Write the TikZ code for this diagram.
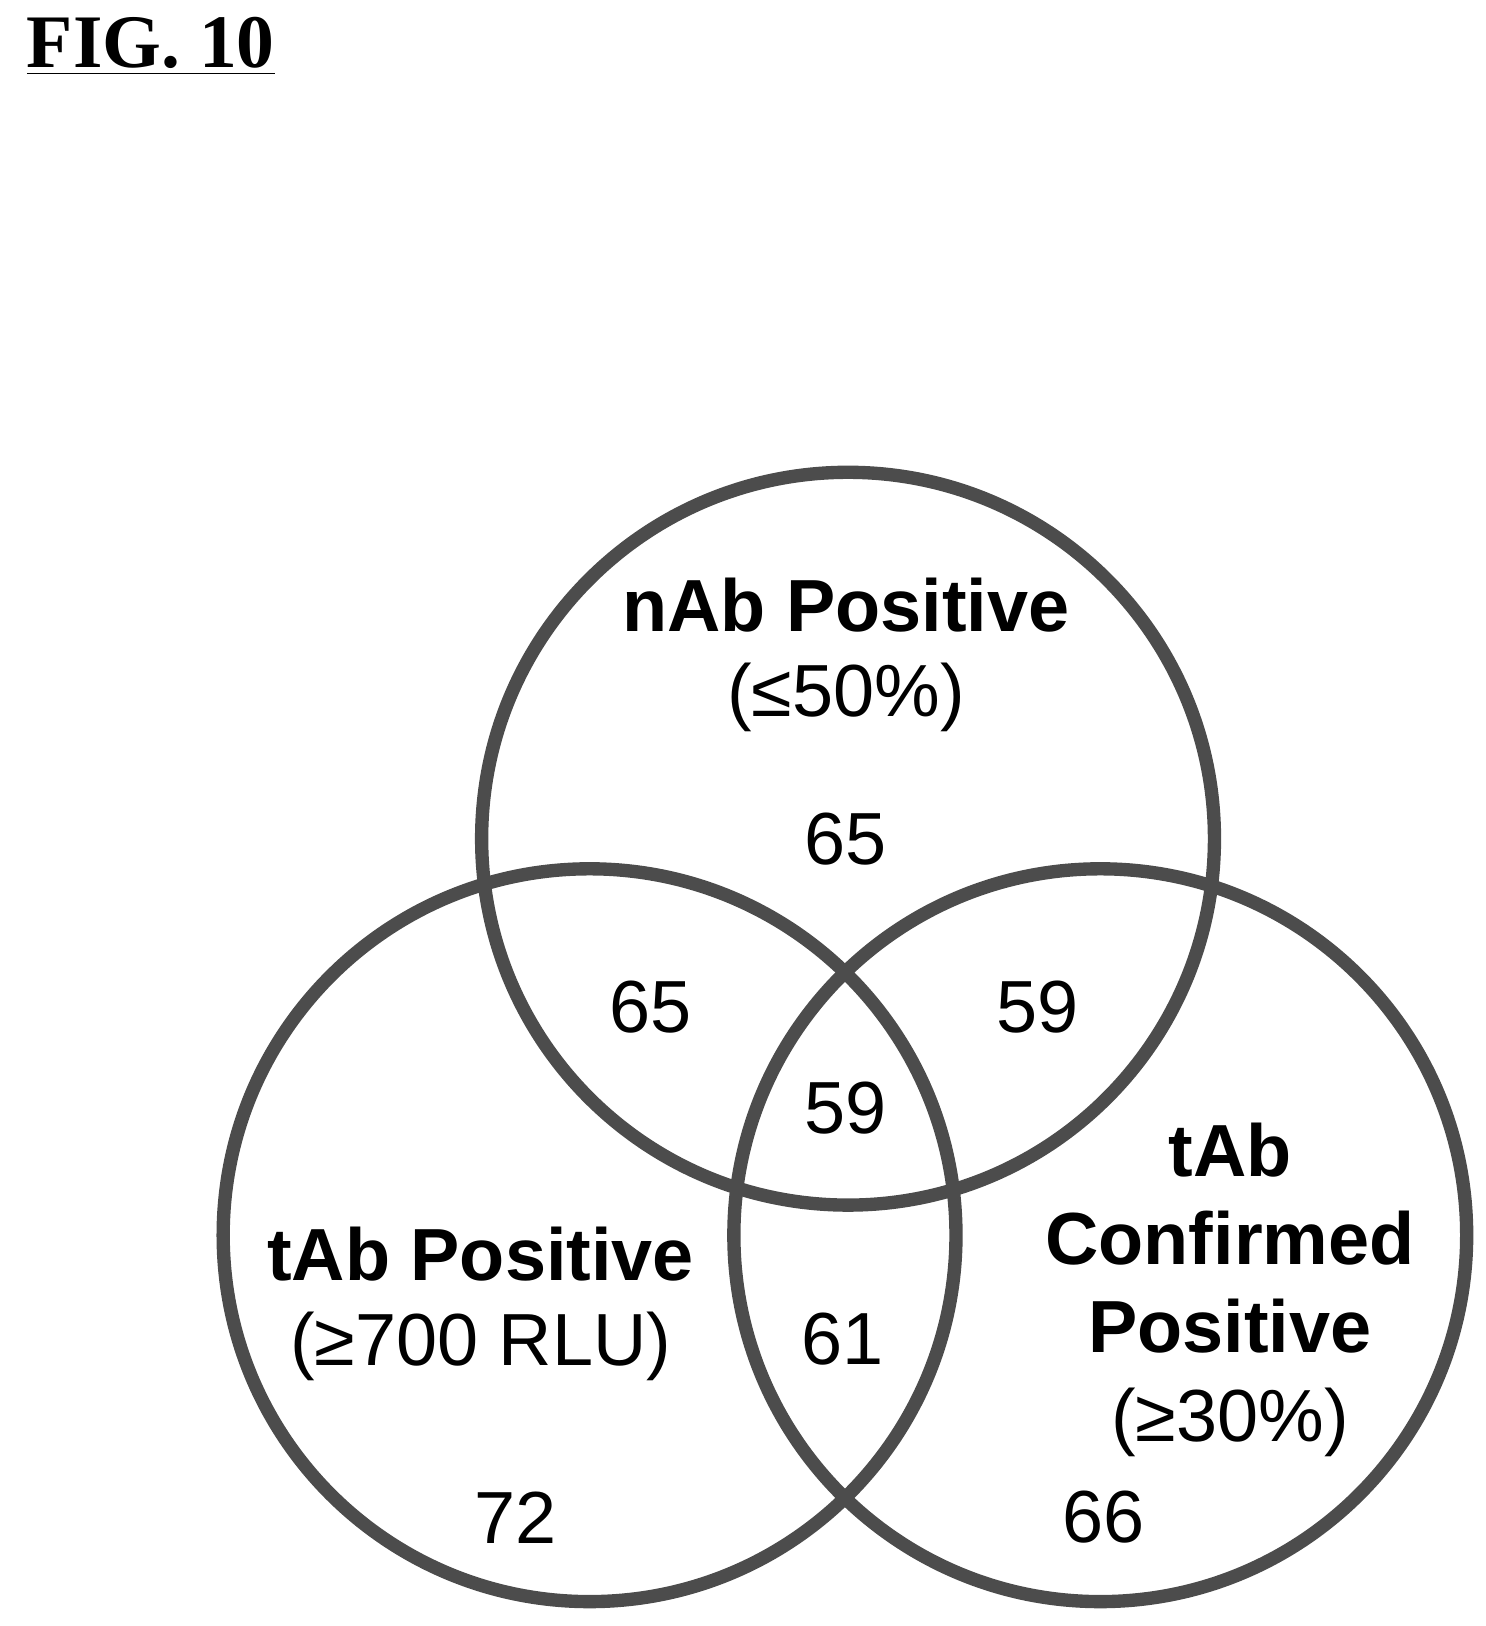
\documentclass[tikz,border=0pt]{standalone}
\usepackage{fontspec}
\setmainfont{Liberation Sans}
\newfontfamily\figfont{Liberation Serif}
\begin{document}
\begin{tikzpicture}[x=0.01038cm, y=-0.01038cm]
\tikzset{ring/.style={draw=black!70, line width=3.8pt},
 setlabel/.style={font=\fontsize{21}{25}\selectfont\bfseries, align=center},
 count/.style={font=\fontsize{21}{25}\selectfont}}
\useasboundingbox (0,0) rectangle (1431.6,1566.5);

\node[font=\fontsize{21.5}{25}\selectfont\bfseries\figfont, anchor=west] (fig) at (14,45) {\underline{FIG. 10}};

% three sets
\draw[ring] (817,808) circle[radius=353];
\draw[ring] (568,1190) circle[radius=353];
\draw[ring] (1060,1190) circle[radius=353];

\node[setlabel] (nab) at (815,583) {nAb Positive};
\node[count] (nabcut) at (815,672) {(≤50\%)};
\node[setlabel] (tab) at (463,1208) {tAb Positive};
\node[count] (tabcut) at (463,1297) {(≥700 RLU)};
\node[setlabel] (tabc) at (1185,1193) {tAb\\Confirmed\\Positive};
\node[count] (tabccut) at (1185,1370) {(≥30\%)};

% counts
\node[count] (n1) at (815,808) {65};
\node[count] (n2) at (627,970) {65};
\node[count] (n3) at (1000,970) {59};
\node[count] (n4) at (815,1068) {59};
\node[count] (n5) at (812,1290) {61};
\node[count] (n6) at (497,1462) {72};
\node[count] (n7) at (1063,1462) {66};
\end{tikzpicture}
\end{document}
